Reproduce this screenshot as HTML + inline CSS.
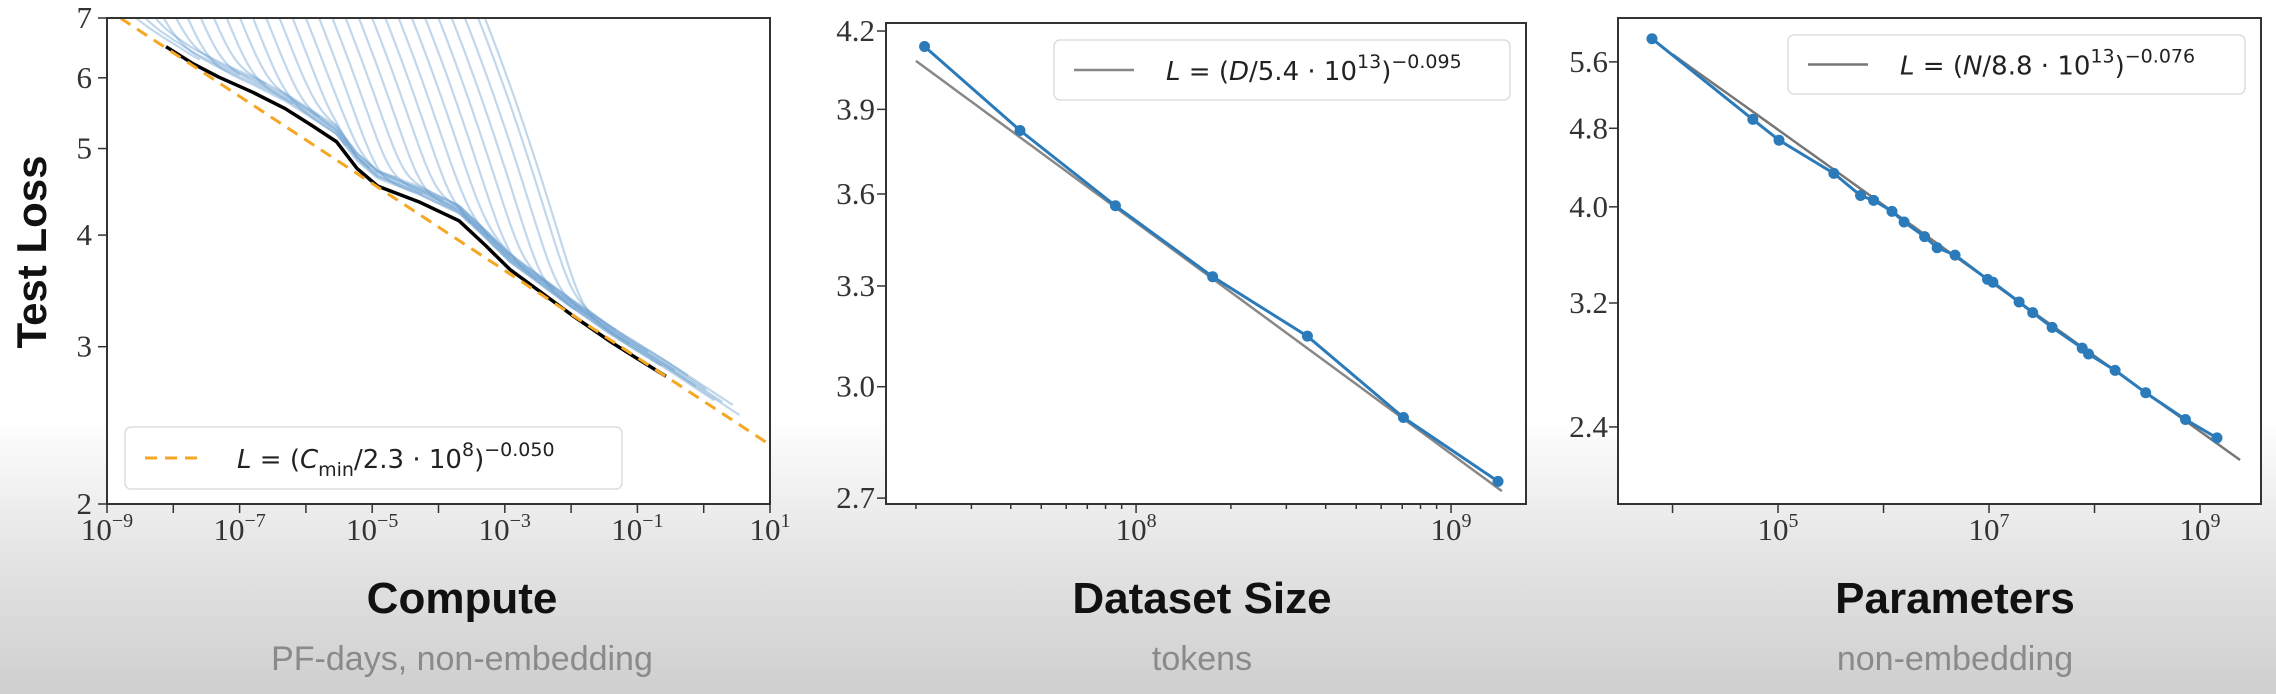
<!DOCTYPE html>
<html><head><meta charset="utf-8"><style>
html,body{margin:0;padding:0;}
body{width:2276px;height:694px;overflow:hidden;background:linear-gradient(to bottom,#ffffff 0%,#ffffff 60%,#e4e4e4 80%,#cfcfcf 100%);}
svg{display:block;}
.tick{font-family:"Liberation Serif",serif;font-size:31px;fill:#333;}
.sup{font-size:20px;}
.title{font-family:"Liberation Sans",sans-serif;font-weight:bold;font-size:44px;fill:#111;}
.sub{font-family:"Liberation Sans",sans-serif;font-size:34px;fill:#8a8a8a;}
.leg{font-family:"DejaVu Sans","Liberation Sans",sans-serif;font-size:26px;fill:#222;}
</style></head><body>
<svg id="chart" width="2276" height="694" viewBox="0 0 2276 694" xmlns="http://www.w3.org/2000/svg"></svg>
<script>
// ---------- Panel 1 data: Compute ----------
const frontierLogC = [-8.11,-7.70,-7.31,-6.80,-6.31,-5.90,-5.54,-5.23,-4.92,-4.30,-3.69,-3.30,-2.92,-2.45,-2.00,-1.38,-0.97,-0.57];
const frontierLoss = [6.50,6.22,6.01,5.78,5.54,5.30,5.09,4.75,4.54,4.36,4.15,3.90,3.66,3.45,3.26,3.03,2.90,2.78];
const fitComputeLogC = [-8.8,1.0];
const fitComputeLoss = [7.0,2.33];
const curveStartLogC = [-8.9,-8.7,-8.5,-8.3,-8.1,-7.9,-7.7,-7.5,-7.3,-7.1,-6.9,-6.7,-6.5,-6.3,-6.1,-5.9,-5.7,-5.5,-5.3,-5.1,-4.9,-4.7,-4.5,-4.3,-4.1,-3.9,-3.7,-3.5,-3.4];
const curveEndLogC   = [-7.6,-7.0,-6.6,-6.2,-5.8,-5.4,-5.0,-4.6,-4.2,-3.9,-3.5,-3.2,-2.8,-2.5,-2.2,-1.9,-1.6,-1.3,-1.1,-0.8,-0.6,-0.4,-0.2,-0.1,0.05,0.2,0.3,0.45,0.55];
// ---------- Panel 2 data: Dataset size ----------
const dataTokens = [2.13e7,4.28e7,8.6e7,1.75e8,3.5e8,7.06e8,1.41e9];
const dataLoss   = [4.139,3.823,3.56,3.329,3.147,2.914,2.743];
const dataFitRange = [2.0e7,1.45e9];
const dataYTicks = [2.7,3.0,3.3,3.6,3.9,4.2];
// ---------- Panel 3 data: Parameters ----------
const paramLog10 = [3.805,4.761,5.009,5.529,5.782,5.906,6.080,6.195,6.389,6.508,6.678,6.986,7.037,7.285,7.414,7.598,7.883,7.943,8.195,8.485,8.862,9.161];
const paramLoss  = [5.909,4.90,4.669,4.323,4.107,4.061,3.958,3.862,3.733,3.638,3.576,3.380,3.358,3.207,3.129,3.024,2.882,2.843,2.737,2.598,2.442,2.340];
const paramFitRange = [1.0e4,2.4e9];
const paramYTicks = [2.4,3.2,4.0,4.8,5.6];
const computeYTicks = [2,3,4,5,6,7];

const NS="http://www.w3.org/2000/svg";
const svg=document.getElementById('chart');
function el(tag,attrs,parent){const e=document.createElementNS(NS,tag);for(const k in attrs)e.setAttribute(k,attrs[k]);(parent||svg).appendChild(e);return e;}

function makeAxes(p){
  p.sx=v=>p.x0+(Math.log10(v)-p.lx0)/(p.lx1-p.lx0)*(p.x1-p.x0);
  p.sy=v=>p.y1-(Math.log(v)-Math.log(p.ly0))/(Math.log(p.ly1)-Math.log(p.ly0))*(p.y1-p.y0);
  const bg=el('rect',{x:p.x0,y:p.y0,width:p.x1-p.x0,height:p.y1-p.y0,fill:'#fff'});
  
  
  const cp=el('clipPath',{id:p.name+'-clip'});
  el('rect',{x:p.x0,y:p.y0,width:p.x1-p.x0,height:p.y1-p.y0},cp);
  p.g=el('g',{'clip-path':'url(#'+p.name+'-clip)'});
  
  
  return p;
}
function frame(p){
  const f=el('rect',{x:p.x0,y:p.y0,width:p.x1-p.x0,height:p.y1-p.y0,fill:'none',stroke:'#333','stroke-width':2});
  
  
}
function xTicks(p,majors,labeled){
  const g=el('g',{});
  
  
  for(let d=Math.floor(p.lx0);d<=Math.ceil(p.lx1);d++){
    for(let m=1;m<10;m++){
      const v=Math.log10(m)+d; if(v<p.lx0-1e-6||v>p.lx1+1e-6)continue;
      const x=p.x0+(v-p.lx0)/(p.lx1-p.lx0)*(p.x1-p.x0);
      if(m!==1&&!p.minor)continue;
      el('line',{x1:x,x2:x,y1:p.y1,y2:p.y1+(m===1?9:5),stroke:'#333','stroke-width':1.5},g);
      if(m===1&&labeled.includes(d)){
        const t=el('text',{x:x,y:540,'text-anchor':'middle',class:'tick'},g);
        
        
        t.textContent='10';
        const s=document.createElementNS(NS,'tspan');s.setAttribute('class','sup');s.setAttribute('dy','-13');
        s.textContent=(d<0?'\u2212'+(-d):''+d);t.appendChild(s);
      }
    }
  }
}
function yTicks(p,ticks,fmt,labelX){
  const g=el('g',{});
  
  
  ticks.forEach(v=>{
    const y=p.sy(v);
    el('line',{x1:p.x0-9,x2:p.x0,y1:y,y2:y,stroke:'#333','stroke-width':1.5},g);
    const t=el('text',{x:labelX,y:y+10,'text-anchor':'end',class:'tick'},g);
    
    
    t.textContent=fmt(v);
  });
}
function legend(x,y,w,h,lineStyle,parts,name){
  const g=el('g',{});
  
  
  el('rect',{x:x,y:y,width:w,height:h,rx:6,fill:'#fff','fill-opacity':0.9,stroke:'#ddd','stroke-width':1.5},g);
  el('line',Object.assign({x1:x+20,x2:x+80,y1:y+h/2,y2:y+h/2},lineStyle),g);
  const t=el('text',{x:x+112,y:y+h/2+10,class:'leg'},g);
  parts.forEach(pt=>{const s=document.createElementNS(NS,'tspan');s.textContent=pt[0];
    if(pt[1]==='i')s.setAttribute('font-style','italic');
    if(pt[1]==='sub'){s.setAttribute('dy','8');s.setAttribute('font-size','19');}
    if(pt[1]==='sup'){s.setAttribute('dy','-12');s.setAttribute('font-size','19');}
    if(pt[1]==='base'){s.setAttribute('dy',pt[2]);}
    t.appendChild(s);});
}
function pathFrom(xs,ys){return xs.map((x,i)=>(i?'L':'M')+x.toFixed(1)+','+ys[i].toFixed(1)).join(' ');}

// ===== Panel 1 =====
const p1=makeAxes({name:'compute',x0:107,x1:770,y0:18,y1:504,lx0:-9,lx1:1,ly0:2,ly1:7,minor:false});
function frontierAt(lc){
  if(lc<=frontierLogC[0]){const s=(Math.log(frontierLoss[1])-Math.log(frontierLoss[0]))/(frontierLogC[1]-frontierLogC[0]);return Math.exp(Math.log(frontierLoss[0])+s*(lc-frontierLogC[0]));}
  for(let i=1;i<frontierLogC.length;i++){if(lc<=frontierLogC[i]){const t=(lc-frontierLogC[i-1])/(frontierLogC[i]-frontierLogC[i-1]);return Math.exp(Math.log(frontierLoss[i-1])*(1-t)+Math.log(frontierLoss[i])*t);}}
  const s=(Math.log(fitComputeLoss[1])-Math.log(fitComputeLoss[0]))/(fitComputeLogC[1]-fitComputeLogC[0]);
  const n=frontierLogC.length-1;return Math.exp(Math.log(frontierLoss[n])+s*(lc-frontierLogC[n]));
}
curveStartLogC.forEach((s,i)=>{
  const e=curveEndLogC[i];const xs=[],ys=[];
  const off=1.02+0.02*((i*7)%5)/4;
  for(let lc=s-0.3;lc<=e;lc+=0.04){
    const lnF=Math.log(frontierAt(lc)*off);
    const lnS=Math.log(7.3)-0.42*(lc-s)*(1+0.15*(lc-s));
    const d=lnS-lnF;const L=Math.exp(lnF+0.05*Math.log(1+Math.exp(d/0.05)));
    xs.push(p1.sx(Math.pow(10,lc)));ys.push(p1.sy(L));
  }
  const c=el('path',{d:pathFrom(xs,ys),fill:'none',stroke:'rgb(100,155,205)','stroke-opacity':0.4,'stroke-width':2.2},p1.g);
  
  
});
const fr=el('path',{d:pathFrom(frontierLogC.map(v=>p1.sx(Math.pow(10,v))),frontierLoss.map(p1.sy)),fill:'none',stroke:'#000','stroke-width':3.5,'stroke-linejoin':'round'},p1.g);


const fc=el('path',{d:pathFrom(fitComputeLogC.map(v=>p1.sx(Math.pow(10,v))),fitComputeLoss.map(p1.sy)),fill:'none',stroke:'#f5a623','stroke-width':3,'stroke-dasharray':'12,8'},p1.g);


frame(p1);
xTicks(p1,true,[-9,-7,-5,-3,-1,1]);
yTicks(p1,computeYTicks,v=>''+v,92);
legend(125,427,497,62,{stroke:'#f5a623','stroke-width':3,'stroke-dasharray':'12,8'},[['L','i'],[' = (',''],['C','i'],['min','sub'],['/2.3 · 10','base','-8'],['8','sup'],[')','base','12'],['\u22120.050','sup']],'compute-legend');

// ===== Panel 2 =====
const p2=makeAxes({name:'dataset',x0:886,x1:1526,y0:23,y1:504,lx0:7.206,lx1:9.238,ly0:2.685,ly1:4.232,minor:true});
{const xs=[],ys=[];for(let k=0;k<=40;k++){const lv=Math.log10(dataFitRange[0])+k/40*(Math.log10(dataFitRange[1])-Math.log10(dataFitRange[0]));const D=Math.pow(10,lv);xs.push(p2.sx(D));ys.push(p2.sy(Math.pow(D/5.4e13,-0.095)));}
const f=el('path',{d:pathFrom(xs,ys),fill:'none',stroke:'#888','stroke-width':2.5},p2.g);

}
{const l=el('path',{d:pathFrom(dataTokens.map(p2.sx),dataLoss.map(p2.sy)),fill:'none',stroke:'#2b7bba','stroke-width':3},p2.g);


dataTokens.forEach((d,i)=>{const c=el('circle',{cx:p2.sx(d),cy:p2.sy(dataLoss[i]),r:5.5,fill:'#2b7bba'},p2.g);

});}
frame(p2);
xTicks(p2,true,[8,9]);
yTicks(p2,dataYTicks,v=>v.toFixed(1),875);
legend(1054,40,456,60,{stroke:'#888','stroke-width':2.5},[['L','i'],[' = (',''],['D','i'],['/5.4 · 10',''],['13','sup'],[')','base','12'],['\u22120.095','sup']],'dataset-legend');

// ===== Panel 3 =====
const p3=makeAxes({name:'parameters',x0:1618,x1:2261,y0:18,y1:504,lx0:3.483,lx1:9.578,ly0:2.007,ly1:6.20,minor:false});
{const xs=[],ys=[];for(let k=0;k<=40;k++){const lv=Math.log10(paramFitRange[0])+k/40*(Math.log10(paramFitRange[1])-Math.log10(paramFitRange[0]));const N=Math.pow(10,lv);xs.push(p3.sx(N));ys.push(p3.sy(Math.pow(N/8.8e13,-0.076)));}
const f=el('path',{d:pathFrom(xs,ys),fill:'none',stroke:'#777','stroke-width':2.5},p3.g);

}
{const xs=paramLog10.map(v=>p3.sx(Math.pow(10,v)));
const l=el('path',{d:pathFrom(xs,paramLoss.map(p3.sy)),fill:'none',stroke:'#2b7bba','stroke-width':3},p3.g);


paramLog10.forEach((v,i)=>{const c=el('circle',{cx:xs[i],cy:p3.sy(paramLoss[i]),r:5.5,fill:'#2b7bba'},p3.g);

});}
frame(p3);
xTicks(p3,true,[5,7,9]);
yTicks(p3,paramYTicks,v=>v.toFixed(1),1608);
legend(1788,35,457,59,{stroke:'#777','stroke-width':2.5},[['L','i'],[' = (',''],['N','i'],['/8.8 · 10',''],['13','sup'],[')','base','12'],['\u22120.076','sup']],'parameters-legend');
</script>
<div style="position:absolute;left:0;top:0;width:2276px;height:694px;pointer-events:none;">
<svg width="2276" height="694" xmlns="http://www.w3.org/2000/svg">
<text x="46" y="252" transform="rotate(-90 46 252)" text-anchor="middle" class="title" style="font-size:42px">Test Loss</text>
<text x="462" y="613" text-anchor="middle" class="title">Compute</text>
<text x="462" y="670" text-anchor="middle" class="sub">PF-days, non-embedding</text>
<text x="1202" y="613" text-anchor="middle" class="title">Dataset Size</text>
<text x="1202" y="670" text-anchor="middle" class="sub">tokens</text>
<text x="1955" y="613" text-anchor="middle" class="title">Parameters</text>
<text x="1955" y="670" text-anchor="middle" class="sub">non-embedding</text>
</svg></div>
</body></html>
